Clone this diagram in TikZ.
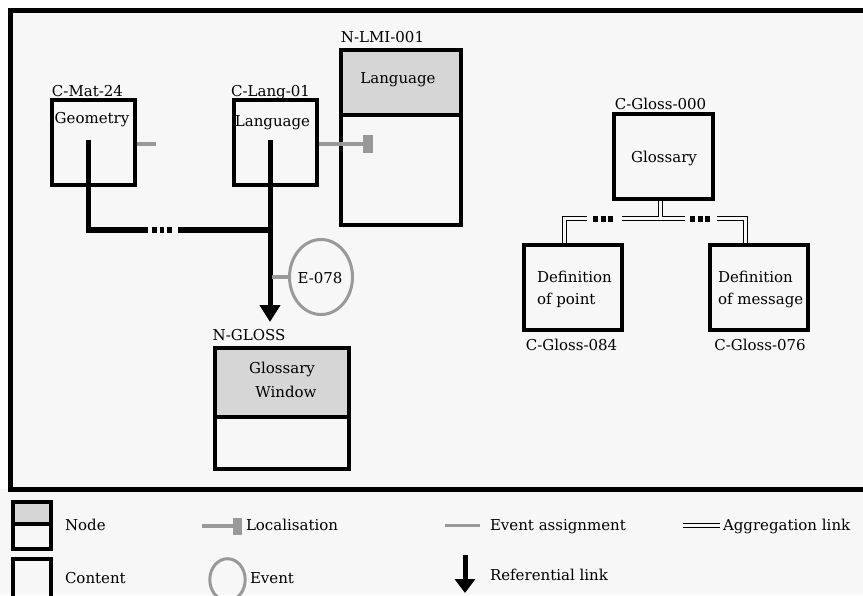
\documentclass[tikz,border=0pt]{standalone}
\usepackage{fontspec}
\setmainfont{DejaVu Serif}
\usetikzlibrary{arrows.meta,shapes.geometric}
\definecolor{bgc}{HTML}{F7F7F7}
\definecolor{hdrc}{HTML}{D6D6D6}
\definecolor{lnkc}{HTML}{999999}
\begin{document}
\begin{tikzpicture}[x=1pt,y=-1pt,
  txt/.style={font=\fontsize{15}{18}\selectfont, inner sep=0pt, outer sep=0pt},
  cbox/.style={draw=black, line width=4pt, rectangle, inner sep=0pt},
  hdr/.style={fill=hdrc, draw=none, rectangle, inner sep=0pt, outer sep=0pt},
  sepline/.style={line width=4pt},
  reflink/.style={draw=black, line width=5pt},
  refhlink/.style={draw=black, line width=6.5pt},
  reftip/.style={-{Triangle[width=20pt,length=17pt]}},
  evlink/.style={draw=lnkc, line width=3.5pt},
  evt/.style={draw=lnkc, line width=3pt, ellipse, inner sep=0pt},
  agg/.style={draw=black, line width=1.3pt, double=bgc, double distance=2.4pt},
  refdots/.style={draw=black, line width=6.5pt, dash pattern=on 4.5pt off 3pt},
  aggdots/.style={draw=black, line width=6pt, dash pattern=on 5pt off 2.5pt},
  locend/.style={fill=lnkc, draw=none, rectangle, inner sep=0pt}
]
\useasboundingbox (0,0) rectangle (863,595);
\clip (0,0) rectangle (863,595);
\fill[white] (0,0) rectangle (863,595);
\fill[bgc] (11,11) rectangle (863,489);
\fill[bgc] (0,489) rectangle (863,595);
% frame
\draw[line width=5pt] (10.7,10.7) rectangle (880,489);

% ---------- content boxes ----------
\node[cbox, minimum width=83pt, minimum height=85pt] (mat) at (93.5,142.5) {};
\node[txt, anchor=base] (matid) at (87.5,96) {C-Mat-24};
\node[txt, anchor=base] (geo) at (92,123) {Geometry};

\node[cbox, minimum width=83pt, minimum height=85pt] (lang) at (275,142.5) {};
\node[txt, anchor=base] (langid) at (270.5,96) {C-Lang-01};
\node[txt, anchor=base] (langtx) at (272.5,126) {Language};

% N-LMI-001 node
\node[hdr, minimum width=120pt, minimum height=66.5pt] (lmihdr) at (401,81.25) {};
\node[cbox, minimum width=120pt, minimum height=175pt] (lmi) at (401,137.5) {};
\draw[sepline] (lmihdr.south west) -- (lmihdr.south east);
\node[txt, anchor=base] (lmiid) at (382.5,42) {N-LMI-001};
\node[txt, anchor=base] (lmitx) at (398,83) {Language};

% gray stub and localisation
\coordinate (geoStub) at (156,144);
\draw[evlink] (mat.east |- geoStub) -- (geoStub);
\node[locend, minimum width=10pt, minimum height=18pt] (locEnd) at (368,144) {};
\draw[evlink] (lang.east |- locEnd) -- (locEnd.west);

% referential links
\coordinate (matSrc) at (88,140);
\coordinate (matCorner) at (88,230);
\coordinate (matCornerOut) at (85.5,230);
\coordinate (langSrc) at (270,140);
\coordinate (joinL) at (148,230);
\coordinate (dotL) at (152,230);
\coordinate (dotR) at (172,230);
\coordinate (joinR) at (178,230);
\coordinate (arrTip) at (270,322);
\draw[reflink] (matSrc) -- (matCorner);
\draw[refhlink] (matCornerOut) -- (joinL);
\draw[refdots] (dotL) -- (dotR);
\draw[refhlink] (joinR) -- (langSrc |- joinR);
\draw[reflink, reftip] (langSrc) -- (arrTip);

% event
\node[evt, minimum width=63pt, minimum height=75pt] (e78) at (321,277) {};
\node[txt, anchor=base] (e78tx) at (320,283) {E-078};
\coordinate (evJoin) at (272,277);
\draw[evlink] (evJoin) -- (e78.west);

% N-GLOSS node
\node[hdr, minimum width=134pt, minimum height=69pt] (winhdr) at (282,382.5) {};
\node[cbox, minimum width=134pt, minimum height=121pt] (win) at (282,408.5) {};
\draw[sepline] (winhdr.south west) -- (winhdr.south east);
\node[txt, anchor=base] (winid) at (249,340) {N-GLOSS};
\node[txt, anchor=base] (wintx1) at (282,373) {Glossary};
\node[txt, anchor=base] (wintx2) at (286,397) {Window};

% glossary tree
\node[cbox, minimum width=99pt, minimum height=85pt] (g0) at (663.5,156.5) {};
\node[txt, anchor=base] (g0id) at (660.5,109) {C-Gloss-000};
\node[txt, anchor=base] (g0tx) at (664,162) {Glossary};

\node[cbox, minimum width=98pt, minimum height=85pt] (dp) at (572.8,287) {};
\node[txt, anchor=base west] (dptx1) at (537,282) {Definition};
\node[txt, anchor=base west] (dptx2) at (537,304) {of point};
\node[txt, anchor=base] (dpid) at (571.5,350) {C-Gloss-084};

\node[cbox, minimum width=98pt, minimum height=85pt] (dm) at (759.3,287) {};
\node[txt, anchor=base west] (dmtx1) at (718,282) {Definition};
\node[txt, anchor=base west] (dmtx2) at (718,304) {of message};
\node[txt, anchor=base] (dmid) at (760,350) {C-Gloss-076};

\coordinate (aggMid) at (660.5,218.5);
\coordinate (aggTop) at (660.5,217.3);
\coordinate (dpl) at (564.5,0);
\coordinate (dmr) at (745.5,0);
\draw[agg] (aggMid) -- (622,218.5);
\draw[aggdots] (593,218.5) -- (613,218.5);
\draw[agg] (587,218.5) -| (dp.north -| dpl);
\draw[agg] (aggMid) -- (685,218.5);
\draw[aggdots] (690,218.5) -- (712,218.5);
\draw[agg] (717,218.5) -| (dm.north -| dmr);
\draw[agg] (g0.south -| aggMid) -- (aggTop);

% ---------- legend ----------
\node[hdr, minimum width=37.7pt, minimum height=21.5pt] (lgNodeHdr) at (31.8,512.75) {};
\node[cbox, minimum width=37.7pt, minimum height=47pt] (lgNode) at (31.8,525.5) {};
\draw[sepline] (lgNodeHdr.south west) -- (lgNodeHdr.south east);
\node[txt, anchor=base west] (lgNodeTx) at (65,530) {Node};

\node[cbox, minimum width=37.7pt, minimum height=47pt] (lgCont) at (31.8,582.2) {};
\node[txt, anchor=base west] (lgContTx) at (65,583) {Content};

\coordinate (lgLocStart) at (202,526);
\node[locend, minimum width=9pt, minimum height=17pt] (lgLocEnd) at (237.5,526) {};
\draw[evlink] (lgLocStart) -- (lgLocEnd.west);
\node[txt, anchor=base west] (lgLocTx) at (246,530) {Localisation};

\node[evt, minimum width=35.4pt, minimum height=42pt] (lgEvt) at (227.5,579.7) {};
\node[txt, anchor=base west] (lgEvtTx) at (250,583) {Event};

\coordinate (lgEaA) at (445,525.5);
\coordinate (lgEaB) at (480,525.5);
\draw[evlink] (lgEaA) -- (lgEaB);
\node[txt, anchor=base west] (lgEaTx) at (490,530) {Event assignment};

\coordinate (lgAgA) at (683,525.5);
\coordinate (lgAgB) at (720,525.5);
\draw[agg] (lgAgA) -- (lgAgB);
\node[txt, anchor=base west] (lgAgTx) at (723,530) {Aggregation link};

\coordinate (lgRefA) at (465,555);
\coordinate (lgRefB) at (465,593);
\draw[reflink, -{Triangle[width=20pt,length=14pt]}] (lgRefA) -- (lgRefB);
\node[txt, anchor=base west] (lgRefTx) at (490,580) {Referential link};
\end{tikzpicture}
\end{document}
